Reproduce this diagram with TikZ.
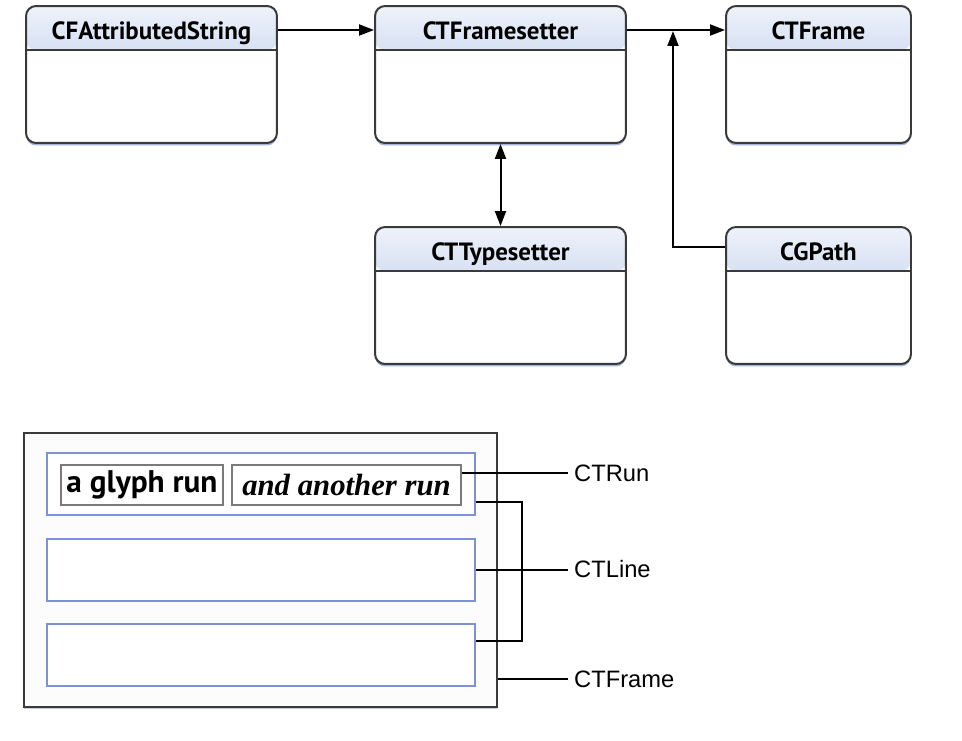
\documentclass[tikz,border=0pt]{standalone}
\usepackage{fontspec}
\newfontfamily\hdrfont{PT Sans}
\newfontfamily\lblfont{Liberation Sans}
\newfontfamily\runfont{Liberation Serif}
\usepackage{tikz}
\usetikzlibrary{positioning,arrows.meta,shadows}
\usepackage{xcolor}
\definecolor{hdtop}{HTML}{EEF2FA}
\definecolor{hdbot}{HTML}{A9BEE6}
\definecolor{edge}{HTML}{3A3A3A}
\definecolor{lineblue}{HTML}{7D91D4}
\definecolor{rungray}{HTML}{7A7A7A}
\definecolor{shadowblue}{HTML}{9AAAD8}

\begin{document}
\begin{tikzpicture}[x=0.02cm,y=-0.02cm,
  entity/.style={draw=edge, line width=0.04cm, rounded corners=0.2cm, fill=white,
    minimum width=5.02cm, inner xsep=0pt, inner ysep=0pt,
    text height=0.66cm, text depth=2.08cm,
    font=\hdrfont\bfseries\fontsize{14.2}{16}\selectfont,
    drop shadow={shadow xshift=0cm, shadow yshift=-0.05cm, fill=shadowblue, opacity=0.9},
    path picture={
      \shade[top color=hdtop, bottom color=hdbot] (path picture bounding box.north west) rectangle ([yshift=-0.88cm]path picture bounding box.north east);
      \draw[edge, line width=0.03cm] ([yshift=-0.88cm]path picture bounding box.north west) -- ([yshift=-0.88cm]path picture bounding box.north east);
    }},
  arr/.style={line width=0.04cm, -{Triangle[length=0.3cm,width=0.22cm]}},
  ctbox/.style={draw=edge, line width=0.035cm, fill=black!1, minimum width=9.46cm, minimum height=5.48cm, inner sep=0pt,
    drop shadow={shadow xshift=0cm, shadow yshift=-0.05cm, fill=shadowblue, opacity=0.6}},
  linebox/.style={draw=lineblue, line width=0.04cm, fill=white, minimum width=8.56cm, minimum height=1.24cm, inner sep=0pt},
  runbox/.style={draw=rungray, line width=0.035cm, fill=white, minimum height=0.8cm, inner sep=0pt},
  conn/.style={line width=0.04cm},
  lbl/.style={anchor=west, font=\lblfont\fontsize{13.5}{16}\selectfont}]
  \useasboundingbox (0,0) rectangle (962,740);

  % classes
  \node[entity] (str) at (151.5,74.5) {CFAttributedString};
  \node[entity] (fs) at (500.5,74.5) {CTFramesetter};
  \node[entity, minimum width=3.7cm] (frame) at (818.5,74.5) {CTFrame};
  \node[entity] (ts) at (500.5,295.5) {CTTypesetter};
  \node[entity, minimum width=3.7cm] (path) at (818.5,295.5) {CGPath};

  \coordinate (join) at (673,31);
  \draw[arr] ([yshift=-0.5cm]str.north east) -- ([yshift=-0.5cm]fs.north west);
  \draw[arr] ([yshift=-0.5cm]fs.north east) -- ([yshift=-0.5cm]frame.north west);
  \draw[arr] ([yshift=-0.42cm]path.north west) -| (join);
  \draw[arr, {Triangle[length=0.3cm,width=0.22cm]}-{Triangle[length=0.3cm,width=0.22cm]}] (fs.south) -- (ts.north);

  % frame, lines and runs
  \node[ctbox] (frm) at (260.5,570) {};
  \foreach \y/\n in {484/1,569.5/2,655/3}
    \node[linebox] (line\n) at (261,\y) {};
  \node[runbox, minimum width=3.24cm, font=\hdrfont\bfseries\fontsize{17.8}{20}\selectfont] (run1) at (142,485) {a glyph run};
  \node[runbox, minimum width=4.58cm, font=\runfont\bfseries\itshape\fontsize{17.5}{20}\selectfont] (run2) at (346.5,485) {and another run};

  \node[lbl] (runlbl) at (568,473) {CTRun};
  \node[lbl] (linelbl) at (568,569.5) {CTLine};
  \node[lbl] (framelbl) at (568,679) {CTFrame};

  \draw[conn] (runlbl.west -| run2.east) -- (runlbl.west);
  \draw[conn] ([yshift=0.28cm]line1.south east) -- ++(46,0) |- ([yshift=-0.36cm]line3.north east);
  \draw[conn] (line2.east) -- (linelbl.west);
  \draw[conn] (framelbl.west -| frm.east) -- (framelbl.west);
\end{tikzpicture}
\end{document}
